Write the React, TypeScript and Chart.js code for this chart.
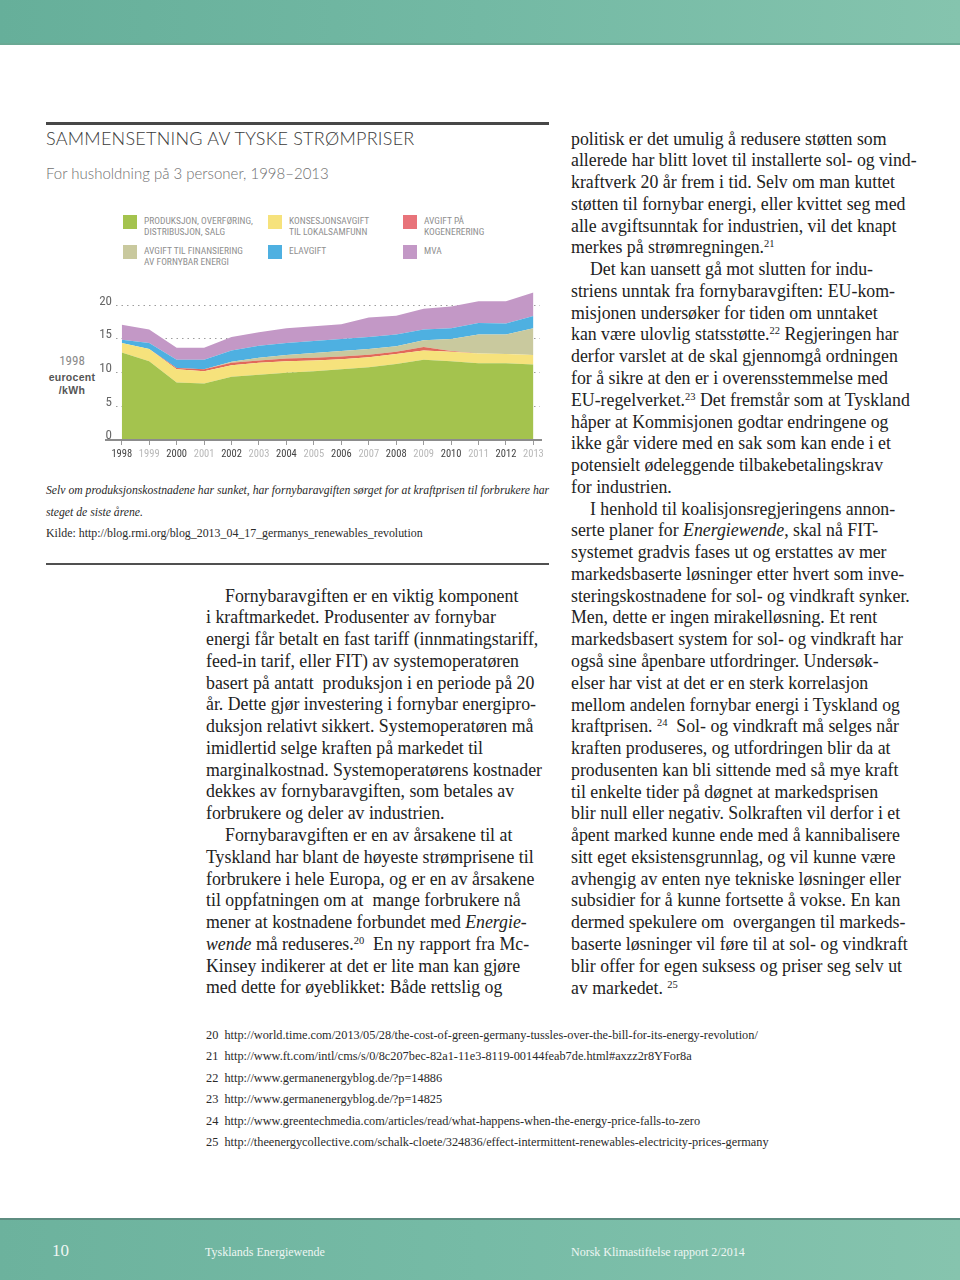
import React, { useEffect, useRef } from "react";
import { Chart, registerables } from "chart.js";

Chart.register(...registerables);

// ---------- DATA ----------
const years = [1998, 1999, 2000, 2001, 2002, 2003, 2004, 2005, 2006, 2007, 2008, 2009, 2010, 2011, 2012, 2013];
const yearLabels = years.map(String);
const yTickValues = [0, 5, 10, 15, 20];

const produksjon = [13.0, 11.7, 8.55, 8.4, 9.4, 9.7, 10.0, 10.2, 10.5, 10.8, 11.3, 11.9, 11.7, 11.4, 11.4, 11.2];
const konsesjon = [1.4, 1.8, 1.95, 1.8, 1.7, 1.75, 1.7, 1.6, 1.5, 1.5, 1.45, 1.4, 1.4, 1.45, 1.35, 1.4];
const kogenerering = [0, 0, 0.2, 0.3, 0.35, 0.35, 0.4, 0.4, 0.4, 0.35, 0.35, 0.5, 0.1, 0, 0, 0];
const fornybar = [0, 0, 0, 0, 0.15, 0.4, 0.5, 0.7, 0.8, 0.85, 0.8, 1.0, 1.8, 2.8, 2.9, 4.0];
const elavgift = [0.5, 0.9, 1.2, 1.4, 1.7, 1.8, 1.8, 1.8, 1.8, 1.8, 1.75, 1.6, 1.6, 1.7, 1.65, 1.8];
const mva = [2.2, 2.0, 1.8, 1.8, 2.0, 2.0, 2.2, 2.2, 2.2, 2.9, 2.8, 3.1, 3.2, 3.25, 3.3, 3.5];

const labelProduksjon = ["PRODUKSJON, OVERFØRING,", "DISTRIBUSJON, SALG"];
const labelKonsesjon = ["KONSESJONSAVGIFT", "TIL LOKALSAMFUNN"];
const labelKogenerering = ["AVGIFT PÅ", "KOGENERERING"];
const labelFornybar = ["AVGIFT TIL FINANSIERING", "AV FORNYBAR ENERGI"];
const labelElavgift = ["ELAVGIFT"];
const labelMva = ["MVA"];

const cGreen = "#a4c34e";
const cYellow = "#f6e27c";
const cRed = "#e1695a";
const cTan = "#c9c99e";
const cBlue = "#4eb0e1";
const cPurple = "#c398c6";
const cRedLegend = "#e8737a";

const title = "SAMMENSETNING AV TYSKE STRØMPRISER";
const subtitle = "For husholdning på 3 personer, 1998–2013";
const captionLines = [
  "Selv om produksjonskostnadene har sunket, har fornybaravgiften sørget for at kraftprisen til forbrukere har",
  "steget de siste årene.",
];
const sourceLine = "Kilde: http://blog.rmi.org/blog_2013_04_17_germanys_renewables_revolution";

const middleLines = [
  "\tFornybaravgiften er en viktig komponent",
  "i kraftmarkedet. Produsenter av fornybar",
  "energi får betalt en fast tariff (innmatingstariff,",
  "feed-in tarif, eller FIT) av systemoperatøren",
  "basert på antatt  produksjon i en periode på 20",
  "år. Dette gjør investering i fornybar energipro-",
  "duksjon relativt sikkert. Systemoperatøren må",
  "imidlertid selge kraften på markedet til",
  "marginalkostnad. Systemoperatørens kostnader",
  "dekkes av fornybaravgiften, som betales av",
  "forbrukere og deler av industrien.",
  "\tFornybaravgiften er en av årsakene til at",
  "Tyskland har blant de høyeste strømprisene til",
  "forbrukere i hele Europa, og er en av årsakene",
  "til oppfatningen om at  mange forbrukere nå",
  "mener at kostnadene forbundet med *Energie-*",
  "*wende* må reduseres.^20  En ny rapport fra Mc-",
  "Kinsey indikerer at det er lite man kan gjøre",
  "med dette for øyeblikket: Både rettslig og",
];

const rightLines = [
  "politisk er det umulig å redusere støtten som",
  "allerede har blitt lovet til installerte sol- og vind-",
  "kraftverk 20 år frem i tid. Selv om man kuttet",
  "støtten til fornybar energi, eller kvittet seg med",
  "alle avgiftsunntak for industrien, vil det knapt",
  "merkes på strømregningen.^21",
  "\tDet kan uansett gå mot slutten for indu-",
  "striens unntak fra fornybaravgiften: EU-kom-",
  "misjonen undersøker for tiden om unntaket",
  "kan være ulovlig statsstøtte.^22 Regjeringen har",
  "derfor varslet at de skal gjennomgå ordningen",
  "for å sikre at den er i overensstemmelse med",
  "EU-regelverket.^23 Det fremstår som at Tyskland",
  "håper at Kommisjonen godtar endringene og",
  "ikke går videre med en sak som kan ende i et",
  "potensielt ødeleggende tilbakebetalingskrav",
  "for industrien.",
  "\tI henhold til koalisjonsregjeringens annon-",
  "serte planer for *Energiewende*, skal nå FIT-",
  "systemet gradvis fases ut og erstattes av mer",
  "markedsbaserte løsninger etter hvert som inve-",
  "steringskostnadene for sol- og vindkraft synker.",
  "Men, dette er ingen mirakelløsning. Et rent",
  "markedsbasert system for sol- og vindkraft har",
  "også sine åpenbare utfordringer. Undersøk-",
  "elser har vist at det er en sterk korrelasjon",
  "mellom andelen fornybar energi i Tyskland og",
  "kraftprisen. ^24  Sol- og vindkraft må selges når",
  "kraften produseres, og utfordringen blir da at",
  "produsenten kan bli sittende med så mye kraft",
  "til enkelte tider på døgnet at markedsprisen",
  "blir null eller negativ. Solkraften vil derfor i et",
  "åpent marked kunne ende med å kannibalisere",
  "sitt eget eksistensgrunnlag, og vil kunne være",
  "avhengig av enten nye tekniske løsninger eller",
  "subsidier for å kunne fortsette å vokse. En kan",
  "dermed spekulere om  overgangen til markeds-",
  "baserte løsninger vil føre til at sol- og vindkraft",
  "blir offer for egen suksess og priser seg selv ut",
  "av markedet. ^25",
];

const footnotes = [
  "20  http://world.time.com/2013/05/28/the-cost-of-green-germany-tussles-over-the-bill-for-its-energy-revolution/",
  "21  http://www.ft.com/intl/cms/s/0/8c207bec-82a1-11e3-8119-00144feab7de.html#axzz2r8YFor8a",
  "22  http://www.germanenergyblog.de/?p=14886",
  "23  http://www.germanenergyblog.de/?p=14825",
  "24  http://www.greentechmedia.com/articles/read/what-happens-when-the-energy-price-falls-to-zero",
  "25  http://theenergycollective.com/schalk-cloete/324836/effect-intermittent-renewables-electricity-prices-germany",
];

const pageNumber = "10";
const footerLeft = "Tysklands Energiewende";
const footerRight = "Norsk Klimastiftelse rapport 2/2014";

// ---------- HELPERS ----------
const SERIF = "'Liberation Serif', 'DejaVu Serif', serif";
const NARROW = "'Liberation Sans Narrow', 'Roboto Condensed', 'Liberation Sans', sans-serif";
const LIGHT = "Lato, 'Open Sans', sans-serif";
const LINE_H = 21.77;

function renderRich(s: string) {
  const parts = s.split(/(\*[^*]+\*|\^\d+)/);
  return parts.map((p, i) => {
    if (p.startsWith("*") && p.endsWith("*") && p.length > 1) return <i key={i}>{p.slice(1, -1)}</i>;
    if (p.startsWith("^"))
      return (
        <span key={i} style={{ fontSize: "10.5px", lineHeight: 0, position: "relative", top: "-6px" }}>
          {p.slice(1)}
        </span>
      );
    return <React.Fragment key={i}>{p}</React.Fragment>;
  });
}

function TextColumn({ lines, left, top }: { lines: string[]; left: number; top: number }) {
  return (
    <div style={{ position: "absolute", left, top, fontFamily: SERIF, fontSize: "17.8px", lineHeight: LINE_H + "px", color: "#222" }}>
      {lines.map((l, i) => {
        const indent = l.startsWith("\t");
        return (
          <div
            key={i}
            style={{ position: "absolute", left: indent ? 19 : 0, top: i * LINE_H, height: LINE_H, whiteSpace: "pre" }}
          >
            {renderRich(indent ? l.slice(1) : l)}
          </div>
        );
      })}
    </div>
  );
}

function LegendItem({ color, lines, left, top }: { color: string; lines: string[]; left: number; top: number }) {
  return (
    <div style={{ position: "absolute", left, top }}>
      <div style={{ position: "absolute", left: 0, top: 0, width: 14, height: 14, background: color }} />
      <div
        style={{
          position: "absolute",
          left: 21,
          top: 0,
          fontFamily: NARROW,
          fontSize: "9.5px",
          lineHeight: "11px",
          color: "#8f8f8f",
          whiteSpace: "nowrap",
        }}
      >
        {lines.map((l, i) => (
          <div key={i}>{l}</div>
        ))}
      </div>
    </div>
  );
}

const baselinePlugin = {
  id: "baseline",
  afterDatasetsDraw(chart: any) {
    const { ctx, chartArea } = chart;
    ctx.save();
    ctx.strokeStyle = "#8c8c8c";
    ctx.lineWidth = 2;
    ctx.beginPath();
    ctx.moveTo(chartArea.left - 11, chartArea.bottom);
    ctx.lineTo(chartArea.right + 2, chartArea.bottom);
    ctx.stroke();
    ctx.restore();
  },
};

function AreaChart() {
  const ref = useRef<HTMLCanvasElement>(null);
  useEffect(() => {
    const canvas = ref.current;
    if (!canvas) return;
    const mk = (label: string[], data: number[], color: string, fill: any) => ({
      label: label.join(" "),
      data: data.map((v, i) => ({ x: years[i], y: v })),
      backgroundColor: color,
      borderColor: "rgba(0,0,0,0)",
      borderWidth: 0,
      pointRadius: 0,
      pointHoverRadius: 0,
      pointHitRadius: 0,
      tension: 0,
      fill,
    });
    const chart = new Chart(canvas, {
      type: "line",
      data: {
        datasets: [
          mk(labelProduksjon, produksjon, cGreen, "origin"),
          mk(labelKonsesjon, konsesjon, cYellow, "-1"),
          mk(labelKogenerering, kogenerering, cRed, "-1"),
          mk(labelFornybar, fornybar, cTan, "-1"),
          mk(labelElavgift, elavgift, cBlue, "-1"),
          mk(labelMva, mva, cPurple, "-1"),
        ] as any,
      },
      options: {
        responsive: false,
        animation: false,
        devicePixelRatio: 1,
        events: [],
        layout: { padding: { top: 8, right: 10, left: 0, bottom: 0 } },
        plugins: { legend: { display: false }, tooltip: { enabled: false } },
        scales: {
          x: {
            type: "linear",
            min: years[0] - 0.21,
            max: years[years.length - 1] + 0.24,
            afterFit: (s: any) => {
              s.height = 30;
            },
            border: { display: false },
            grid: { drawOnChartArea: false, drawTicks: true, tickLength: 5, tickColor: "#9a9a9a", tickWidth: 1 },
            ticks: {
              stepSize: 1,
              includeBounds: false,
              autoSkip: false,
              maxRotation: 0,
              padding: 3,
              font: { family: NARROW, size: 10.5 },
              color: (c: any) => (c.tick && c.tick.value % 2 === 0 ? "#444" : "#b8b8b8"),
              callback: (v: any) => {
                const idx = years.indexOf(Number(v));
                return idx >= 0 ? yearLabels[idx] : "";
              },
            },
          },
          y: {
            stacked: true,
            min: 0,
            max: 22,
            afterFit: (s: any) => {
              s.width = 76;
            },
            afterBuildTicks: (s: any) => {
              s.ticks = yTickValues.map((v) => ({ value: v }));
            },
            border: { display: false, dash: [1.5, 4] },
            grid: {
              drawTicks: false,
              lineWidth: 1,
              color: (c: any) => (c.tick && c.tick.value === 0 ? "rgba(0,0,0,0)" : "#9d9d9d"),
            },
            ticks: {
              padding: 4,
              labelOffset: -4,
              font: { family: NARROW, size: 13 },
              color: "#666",
              callback: (v: any) => String(v),
            },
          },
        },
      } as any,
      plugins: [baselinePlugin],
    });
    return () => chart.destroy();
  }, []);
  return <canvas ref={ref} width={510} height={190} style={{ position: "absolute", left: 40, top: 280, width: 510, height: 190 }} />;
}

export default function App() {
  return (
    <div style={{ position: "absolute", left: 0, top: 0, width: 960, height: 1280, background: "#fff", overflow: "hidden" }}>
      {/* top band */}
      <div style={{ position: "absolute", left: 0, top: 0, width: 960, height: 45, background: "linear-gradient(90deg, #66af9a 0%, #73b9a4 50%, #85c4ae 100%)" }} />
      <div style={{ position: "absolute", left: 0, top: 43, width: 960, height: 2, background: "#6aa994" }} />

      {/* chart block */}
      <div style={{ position: "absolute", left: 46, top: 122, width: 503, height: 3, background: "#474747" }} />
      <div style={{ position: "absolute", left: 46, top: 128.5, fontFamily: LIGHT, fontWeight: 300, fontSize: "18px", lineHeight: "18px", color: "#3a3a3a", letterSpacing: "0.25px", whiteSpace: "nowrap" }}>
        {title}
      </div>
      <div style={{ position: "absolute", left: 46, top: 166, fontFamily: LIGHT, fontWeight: 300, fontSize: "15px", lineHeight: "15px", color: "#6f6f6f", whiteSpace: "nowrap" }}>
        {subtitle}
      </div>

      <LegendItem color={cGreen} lines={labelProduksjon} left={123} top={215} />
      <LegendItem color={cTan} lines={labelFornybar} left={123} top={245} />
      <LegendItem color={cYellow} lines={labelKonsesjon} left={268} top={215} />
      <LegendItem color={cBlue} lines={labelElavgift} left={268} top={245} />
      <LegendItem color={cRedLegend} lines={labelKogenerering} left={403} top={215} />
      <LegendItem color={cPurple} lines={labelMva} left={403} top={245} />

      <div style={{ position: "absolute", left: 42, top: 352, width: 60, textAlign: "center", whiteSpace: "nowrap" }}>
        <div style={{ fontFamily: NARROW, fontSize: "13px", lineHeight: "17px", color: "#8a8a8a" }}>1998</div>
        <div style={{ fontFamily: "'Liberation Sans', sans-serif", fontWeight: 700, fontSize: "10.5px", lineHeight: "13px", color: "#555", letterSpacing: "0.3px", marginTop: 2 }}>eurocent</div>
        <div style={{ fontFamily: "'Liberation Sans', sans-serif", fontWeight: 700, fontSize: "10.5px", lineHeight: "13px", color: "#555", letterSpacing: "0.3px" }}>/kWh</div>
      </div>

      <AreaChart />

      <div style={{ position: "absolute", left: 46, top: 480, fontFamily: SERIF, fontStyle: "italic", fontSize: "11.7px", lineHeight: "22px", color: "#2a2a2a", whiteSpace: "nowrap" }}>
        {captionLines.map((l, i) => (
          <div key={i}>{l}</div>
        ))}
      </div>
      <div style={{ position: "absolute", left: 46, top: 524, fontFamily: SERIF, fontSize: "11.9px", lineHeight: "18px", color: "#2a2a2a", whiteSpace: "nowrap" }}>
        {sourceLine}
      </div>
      <div style={{ position: "absolute", left: 46, top: 563, width: 503, height: 2, background: "#505050" }} />

      {/* body text */}
      <TextColumn lines={middleLines} left={206} top={585.5} />
      <TextColumn lines={rightLines} left={571} top={128.5} />

      {/* footnotes */}
      <div style={{ position: "absolute", left: 206, top: 1024.5, fontFamily: SERIF, fontSize: "12.3px", lineHeight: "21.6px", color: "#2a2a2a", whiteSpace: "pre" }}>
        {footnotes.map((l, i) => (
          <div key={i}>{l}</div>
        ))}
      </div>

      {/* footer */}
      <div style={{ position: "absolute", left: 0, top: 1219, width: 960, height: 61, background: "linear-gradient(90deg, #6cb29d 0%, #76bba6 50%, #86c4ae 100%)" }} />
      <div style={{ position: "absolute", left: 0, top: 1218, width: 960, height: 2, background: "#5e8d81" }} />
      <div style={{ position: "absolute", left: 52, top: 1241, fontFamily: SERIF, fontSize: "17px", lineHeight: "20px", color: "#eef6f3" }}>{pageNumber}</div>
      <div style={{ position: "absolute", left: 205, top: 1244, fontFamily: SERIF, fontSize: "12px", lineHeight: "16px", color: "#eef6f3" }}>{footerLeft}</div>
      <div style={{ position: "absolute", left: 571, top: 1244, fontFamily: SERIF, fontSize: "12px", lineHeight: "16px", color: "#eef6f3" }}>{footerRight}</div>
    </div>
  );
}
